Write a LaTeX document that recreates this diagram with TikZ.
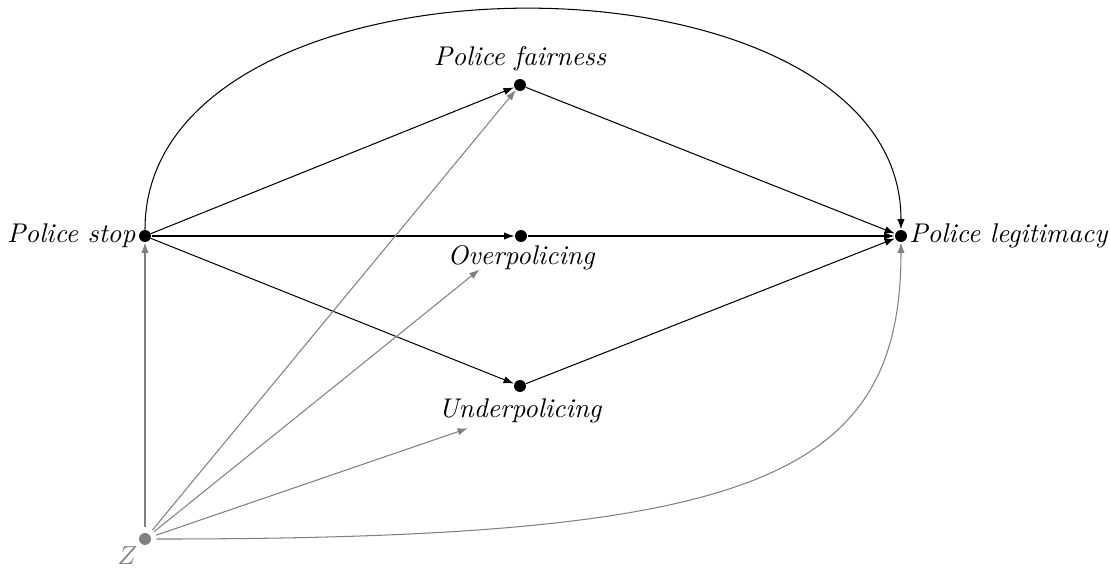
\documentclass[tikz,border=0pt]{standalone}
\usetikzlibrary{arrows.meta}
\begin{document}
\begin{tikzpicture}[x=0.3846pt,y=-0.3846pt,>={Latex[length=4pt,width=2.8pt]},
  dot/.style={circle,fill,inner sep=0pt,minimum size=4.6pt},
  lab/.style={font=\fontsize{10.4pt}{12pt}\selectfont\itshape,inner sep=1pt},
  zarrow/.style={->,gray,shorten <=2pt}]
  \useasboundingbox (0,0) rectangle (1110,568);
  % nodes
  \node[dot] (stop) at (145,236) {};
  \node[dot] (fair) at (520,85) {};
  \node[dot] (over) at (521,236) {};
  \node[dot] (under) at (520,386) {};
  \node[dot] (legit) at (901,236) {};
  \node[dot,gray] (z) at (145,539) {};
  % labels
  \node[lab,anchor=east] (stoplab) at (stop.west) {Police stop};
  \node[lab,anchor=south] (fairlab) at ([yshift=1.5pt]fair.north) {Police fairness};
  \node[lab,anchor=north] (overlab) at (over.south) {Overpolicing};
  \node[lab,anchor=north,inner sep=2pt] (underlab) at (under.south) {Underpolicing};
  \node[lab,anchor=west,inner sep=0.5pt] (legitlab) at (legit.east) {Police legitimacy};
  \node[lab,anchor=north east,gray] (zlab) at (z.south west) {$Z$};
  % causal paths
  \draw[->] (stop) -- (fair);
  \draw[->] (stop) -- (over);
  \draw[->] (stop) -- (under);
  \draw[->] (fair) -- (legit);
  \draw[->] (over) -- (legit);
  \draw[->] (under) -- (legit);
  \draw[->] (stop) .. controls (145,-64) and (901,-64) .. (legit);
  % confounder
  \draw[zarrow] (z) -- (stop);
  \draw[zarrow] (z) -- (fair);
  \draw[zarrow,shorten >=18pt] (z) -- (over);
  \draw[zarrow] (z) -- (underlab);
  \draw[zarrow] (z) .. controls (750,539) and (901,480) .. (legit);
\end{tikzpicture}
\end{document}
